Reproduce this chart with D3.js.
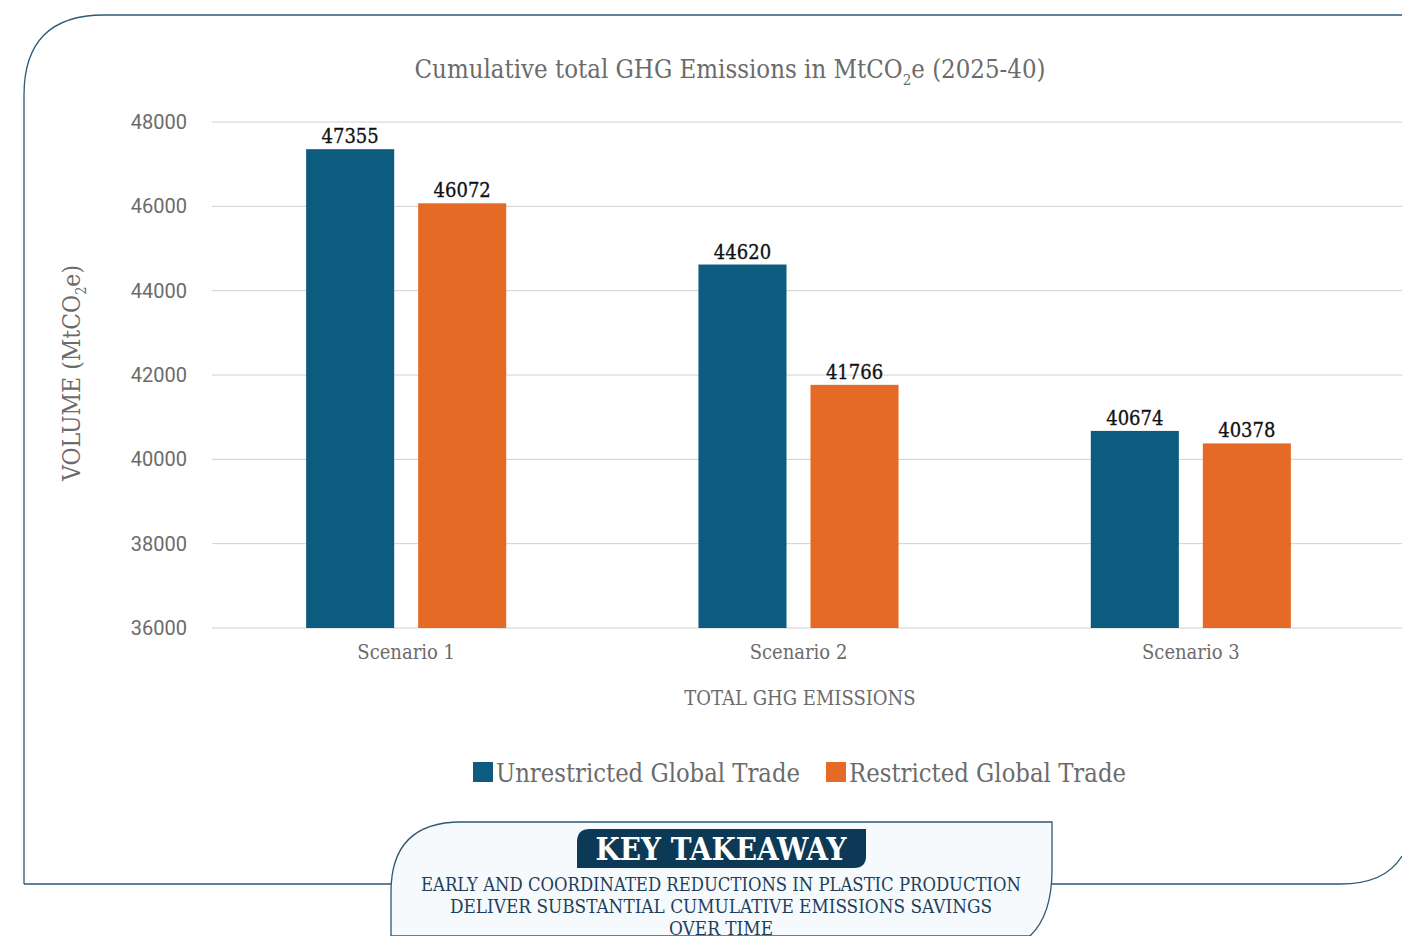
<!DOCTYPE html>
<html>
<head>
<meta charset="utf-8">
<script src="https://cdn.jsdelivr.net/npm/d3@7"></script>
<style>
  body { margin: 0; background: #fff; }
  svg { display: block; }
</style>
</head>
<body>
<svg id="chart" width="1402" height="936"></svg>
<script>
// data
const scenarios = ["Scenario 1", "Scenario 2", "Scenario 3"]
const seriesNames = ["Unrestricted Global Trade", "Restricted Global Trade"]
const unrestricted = [47355, 44620, 40674]
const restricted = [46072, 41766, 40378]
const yTicks = [36000, 38000, 40000, 42000, 44000, 46000, 48000]
const colors = ["#0d5c80", "#e56a25"]

const svg = d3.select("#chart")
const font = '"Roboto Slab", "DejaVu Serif Condensed", "DejaVu Serif", serif'
const grey = "#6b6b6b"

// outer frame
svg.append("path")
  .attr("d", "M24,884 L24,95 Q24,15 104,15 L1402,15 M24,884 L1340,884 Q1385,884 1402,856")
  .attr("fill", "none")
  .attr("stroke", "#2d5a78")
  .attr("stroke-width", 1.3)

// scales
const y = d3.scaleLinear().domain([36000, 48000]).range([628, 122])
const x0 = d3.scaleBand().domain(scenarios).range([210, 1387]).paddingInner(0.49).paddingOuter(0.245)
const x1 = d3.scaleBand().domain(seriesNames).range([0, x0.bandwidth()]).paddingInner(0.214)

// gridlines
svg.append("g").selectAll("line").data(yTicks).join("line")
  .attr("x1", 212).attr("x2", 1402)
  .attr("y1", d => y(d)).attr("y2", d => y(d))
  .attr("stroke", "#d0d0d0").attr("stroke-width", 1)

// y axis labels
const yAxis = svg.append("g")
  .attr("transform", "translate(190,0)")
  .call(d3.axisLeft(y).tickValues(yTicks).tickSize(0).tickPadding(3).tickFormat(d3.format("d")))
yAxis.select(".domain").remove()
yAxis.selectAll("text")
  .attr("font-family", "Roboto, 'Noto Sans', sans-serif")
  .attr("font-size", 20).attr("fill", grey)

// x axis labels
const xAxis = svg.append("g")
  .attr("transform", "translate(0,628)")
  .call(d3.axisBottom(x0).tickSize(0).tickPadding(17))
xAxis.select(".domain").remove()
xAxis.selectAll("text")
  .attr("font-family", font).attr("font-size", 20).attr("fill", grey)

// bars
const rows = scenarios.map((s, i) => ({ s, vals: [unrestricted[i], restricted[i]] }))
const groups = svg.append("g").selectAll("g").data(rows).join("g")
  .attr("transform", d => `translate(${x0(d.s)},0)`)

groups.selectAll("rect")
  .data(d => d.vals.map((v, j) => ({ k: seriesNames[j], v, j })))
  .join("rect")
  .attr("x", d => x1(d.k))
  .attr("width", x1.bandwidth())
  .attr("y", d => y(d.v))
  .attr("height", d => y(36000) - y(d.v))
  .attr("fill", d => colors[d.j])

groups.selectAll("text.val")
  .data(d => d.vals.map((v, j) => ({ k: seriesNames[j], v, j })))
  .join("text")
  .attr("class", "val")
  .attr("x", d => x1(d.k) + x1.bandwidth() / 2)
  .attr("y", d => y(d.v) - 6)
  .attr("text-anchor", "middle")
  .attr("font-family", font).attr("font-size", 20).attr("fill", "#111")
  .attr("stroke", "#111").attr("stroke-width", 0.3)
  .text(d => d.v)

// title
const title = svg.append("text")
  .attr("x", 730).attr("y", 78)
  .attr("text-anchor", "middle")
  .attr("font-family", font).attr("font-size", 25.5).attr("fill", grey)
  .attr("textLength", 631).attr("lengthAdjust", "spacingAndGlyphs")
title.append("tspan").text("Cumulative total GHG Emissions in MtCO")
title.append("tspan").attr("font-size", 15).attr("dy", 7).text("2")
title.append("tspan").attr("dy", -7).text("e (2025-40)")

// y axis title
const yTitle = svg.append("text")
  .attr("transform", "translate(80,373) rotate(-90)")
  .attr("text-anchor", "middle")
  .attr("font-family", font).attr("font-size", 24).attr("fill", grey)
  .attr("textLength", 216).attr("lengthAdjust", "spacingAndGlyphs")
yTitle.append("tspan").text("VOLUME (MtCO")
yTitle.append("tspan").attr("font-size", 14).attr("dy", 6).text("2")
yTitle.append("tspan").attr("dy", -6).text("e)")

// x axis title
svg.append("text")
  .attr("x", 800).attr("y", 705)
  .attr("text-anchor", "middle")
  .attr("font-family", font).attr("font-size", 20).attr("fill", grey)
  .text("TOTAL GHG EMISSIONS")

// legend
const legendX = [473, 826]
const legendW = [304, 277]
const legend = svg.append("g").selectAll("g").data(seriesNames).join("g")
  .attr("transform", (d, i) => `translate(${legendX[i]},762)`)
legend.append("rect").attr("width", 20).attr("height", 20).attr("fill", (d, i) => colors[i])
legend.append("text")
  .attr("x", 23).attr("y", 20)
  .attr("font-family", font).attr("font-size", 26).attr("fill", grey)
  .attr("textLength", (d, i) => legendW[i]).attr("lengthAdjust", "spacingAndGlyphs")
  .text(d => d)

// key takeaway box
svg.append("path")
  .attr("d", "M391,936 L391,892 Q391,822 461,822 L1052,822 L1052,870 Q1052,915 1030,936 Z")
  .attr("fill", "#f6fafc")
  .attr("stroke", "#2d5a78")
  .attr("stroke-width", 1.3)

svg.append("path")
  .attr("d", "M590,829 L866,829 L866,856 Q866,868 854,868 L577,868 L577,842 Q577,829 590,829 Z")
  .attr("fill", "#0b3956")

svg.append("text")
  .attr("x", 721).attr("y", 860)
  .attr("text-anchor", "middle")
  .attr("font-family", font).attr("font-size", 31).attr("font-weight", "bold").attr("fill", "#fff")
  .text("KEY TAKEAWAY")

const takeaway = [
  "EARLY AND COORDINATED REDUCTIONS IN PLASTIC PRODUCTION",
  "DELIVER SUBSTANTIAL CUMULATIVE EMISSIONS SAVINGS",
  "OVER TIME"
]
svg.append("g").selectAll("text").data(takeaway).join("text")
  .attr("x", 721).attr("y", (d, i) => 891 + i * 22)
  .attr("text-anchor", "middle")
  .attr("font-family", font).attr("font-size", 18).attr("fill", "#1e3f5c")
  .attr("textLength", (d, i) => [600, 542, 104][i])
  .attr("lengthAdjust", "spacingAndGlyphs")
  .text(d => d)
</script>
</body>
</html>
